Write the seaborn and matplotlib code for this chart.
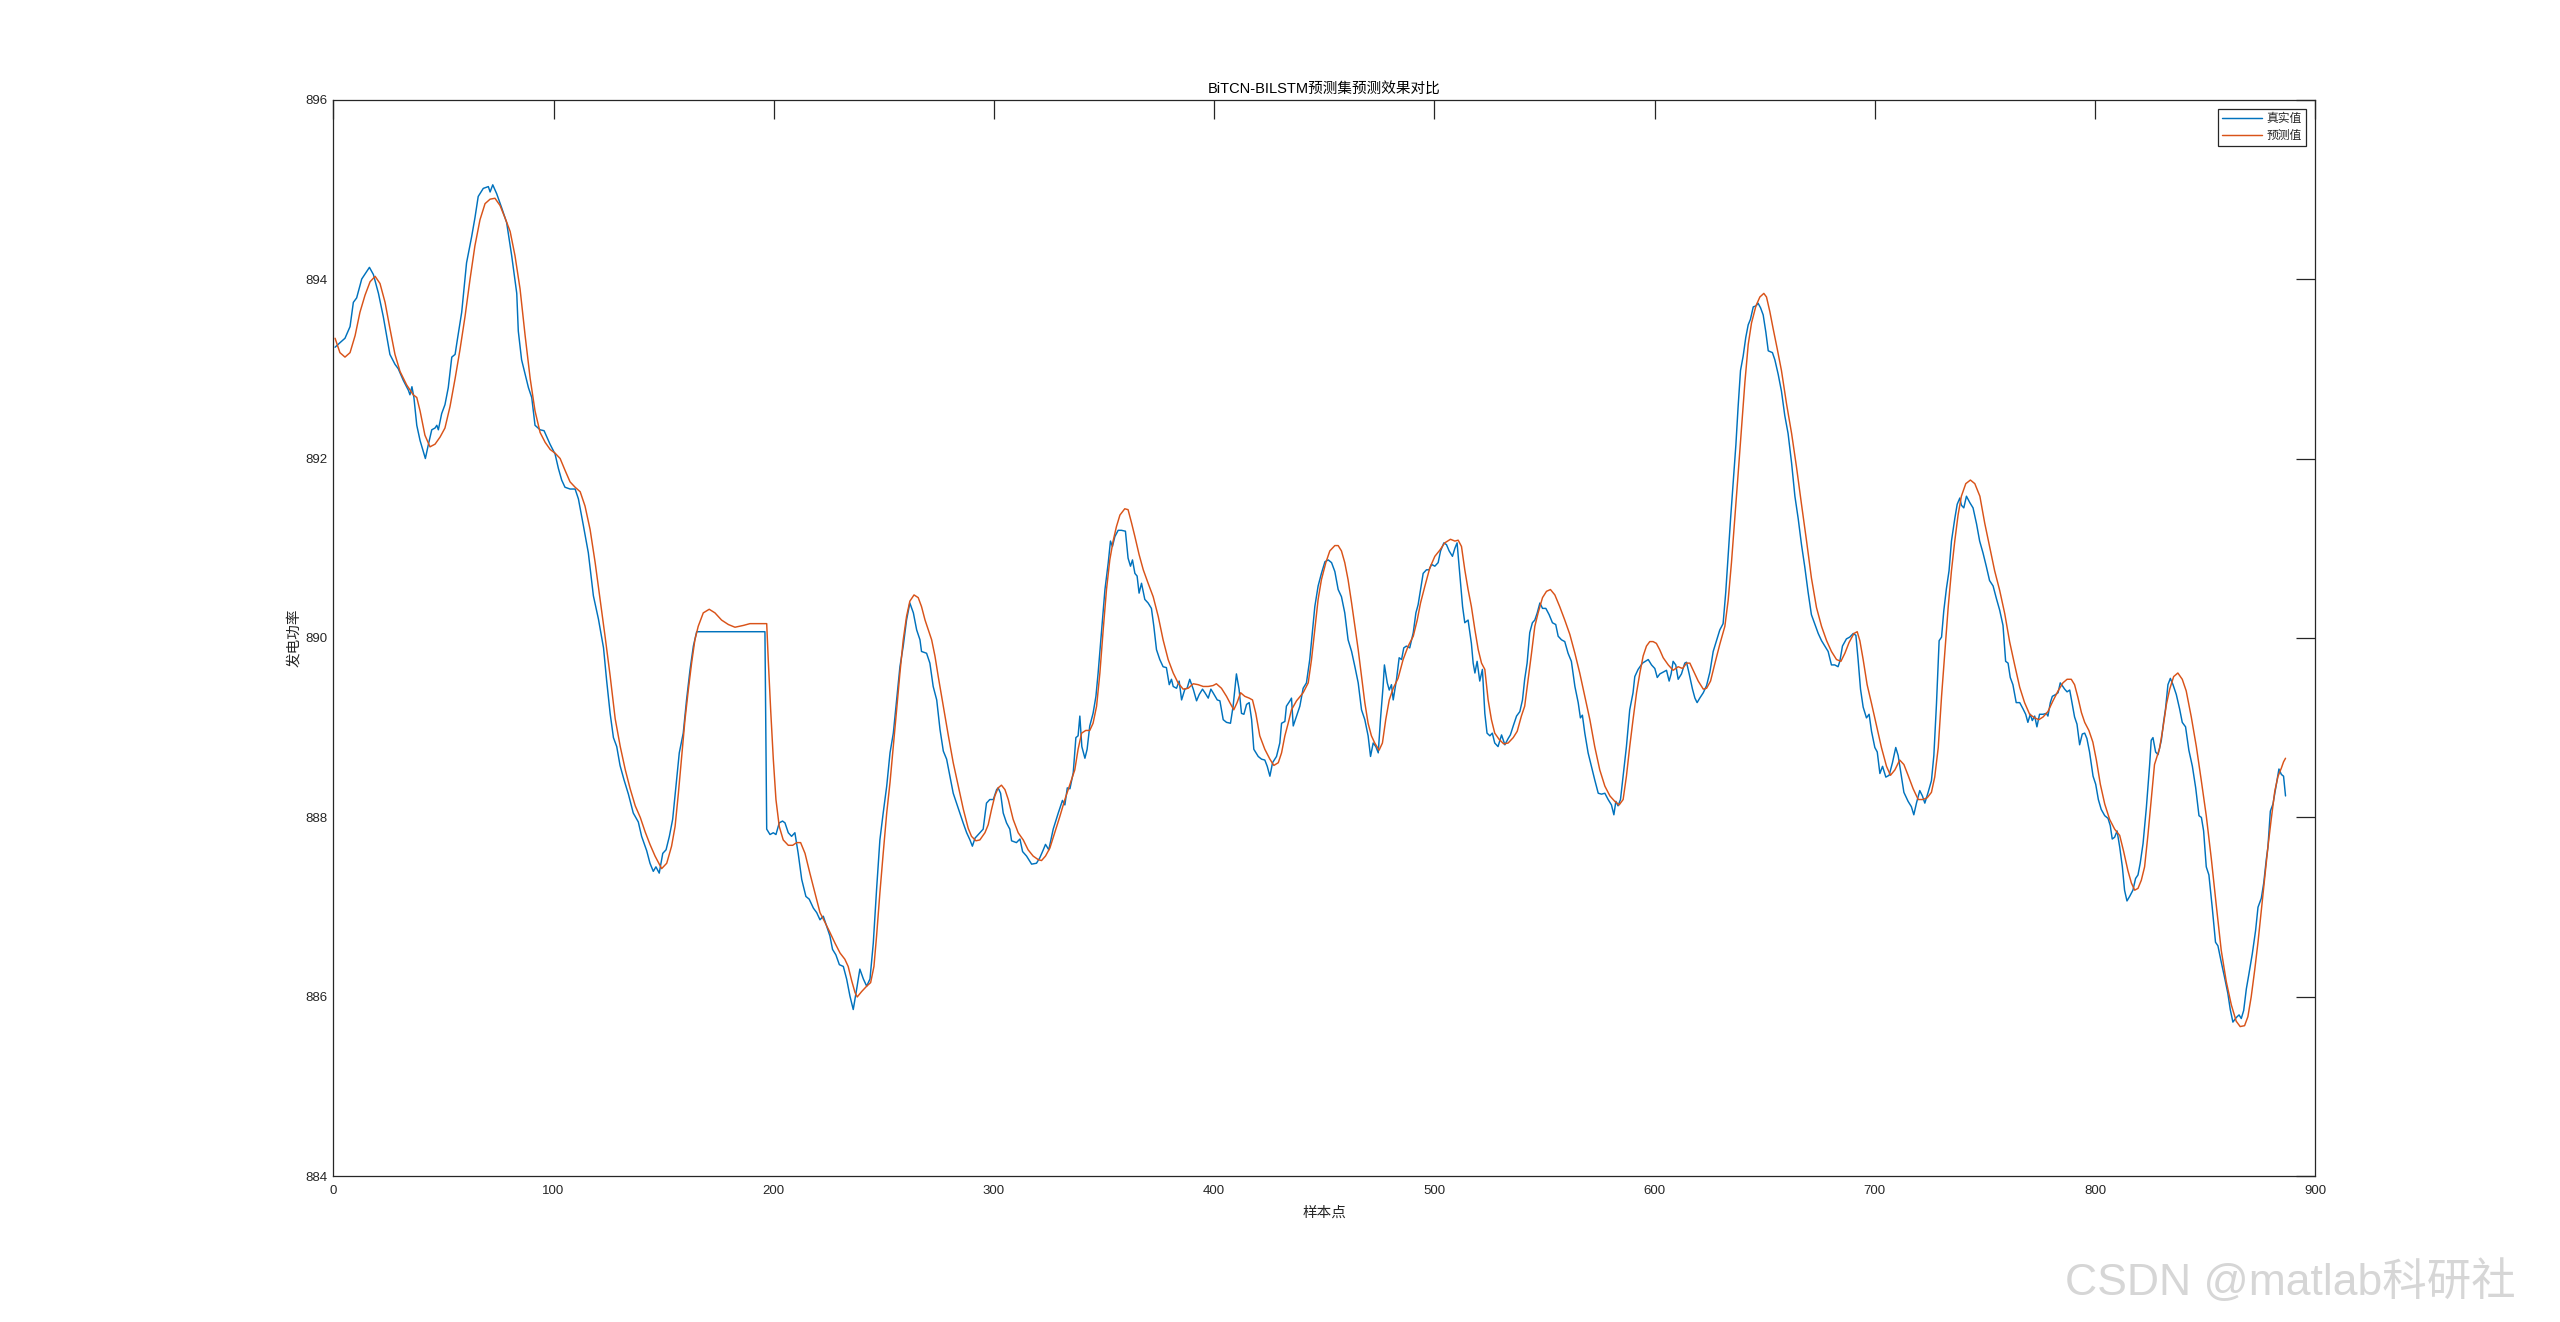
"""BiTCN-BILSTM test-set prediction vs. actual, MATLAB-style figure."""

import matplotlib
matplotlib.use("Agg")
import matplotlib.pyplot as plt
import seaborn as sns

# --- data (sample index, value) ---
true_x = [
    0.8, 3, 5.3, 7.6, 9.1, 10.6, 12.9, 16.4, 18.2, 20.5, 22.7, 24.2, 25.7, 28, 29.5, 31.8, 34.1, 34.8, 35.7, 36.6,
    37.9, 39.4, 41.8, 43.2, 44.7, 46.2, 47, 47.7, 49.2, 50.7, 52.2, 53.8, 55.3, 56.3, 58.3, 60.5, 62.8, 64.3, 65.8, 68.1,
    70.4, 71.2, 72.4, 74.2, 76.5, 78.7, 81, 83.3, 84, 85.5, 87, 88.6, 90.1, 91.6, 93.9, 95.7, 98.4, 100.7, 102.2, 103.7,
    105.2, 107.5, 109.8, 111.3, 113.5, 115.8, 118.1, 120.4, 122.7, 124.1, 125.7, 127.2, 128.7, 130.2, 132, 134, 136.2, 138.5, 140, 142.3,
    143.8, 145.3, 146.5, 148, 149.6, 151.1, 152.6, 154.1, 155.6, 157.1, 158.9, 160.4, 162, 163.5, 165, 196, 196.8, 198.3, 199.8, 201,
    202.5, 204, 205.1, 206.6, 208.1, 209.6, 211.1, 212.7, 214.6, 216.1, 218, 219.5, 221, 222.5, 224, 225.5, 226.7, 228.2, 229.8, 231.6,
    233.1, 234.6, 236.1, 237.6, 239.1, 240.7, 242.2, 243.7, 245.2, 246.7, 248.2, 249.7, 251.3, 252.8, 254.3, 255.8, 257.3, 258.8, 260.3, 261.8,
    263.4, 264.9, 266.4, 267.1, 269.4, 270.9, 272.4, 274, 275.5, 277, 278.5, 280, 281.5, 283, 284.5, 286, 287.6, 289.1, 290.2, 291.4,
    292.9, 295.1, 296.6, 298.1, 299.7, 301.2, 301.9, 303, 304.2, 305.7, 307.2, 308, 310.2, 311.8, 313, 314.8, 317.1, 319.3, 320.8, 322.4,
    323.4, 324.9, 326.9, 329.2, 331.1, 332.2, 333.3, 334.5, 336, 337.2, 338.2, 339, 339.9, 341.3, 342.3, 343.5, 345, 346.3, 347.3, 348.8,
    350.4, 351.9, 352.9, 353.8, 354.9, 356.4, 357.9, 359.7, 360.9, 362, 362.9, 364, 365, 365.9, 367, 368.5, 370, 371.5, 372.6, 373.8,
    375.3, 376.8, 378.3, 379.6, 380.6, 381.4, 382.9, 384.1, 385.2, 386.7, 387.7, 388.9, 390.5, 392, 393.2, 394.7, 395.8, 397.3, 398.5, 399.5,
    401.4, 402.6, 404.1, 405.6, 407.4, 408.6, 410.1, 411.3, 412.4, 413.5, 414.7, 415.9, 417, 418, 420, 421.5, 423, 424.1, 425.3, 426.5,
    428.3, 429.8, 430.6, 432.1, 432.8, 434.4, 435.1, 435.9, 437.4, 438.9, 440.4, 441.9, 443.4, 444.7, 445.7, 447.2, 448.7, 450.3, 451.8, 453.3,
    454.8, 456.3, 457.8, 459.3, 460.8, 462.4, 463.9, 465.4, 466.9, 468.4, 469.9, 471, 472.2, 473.4, 474.5, 475.5, 476.7, 477.3, 478.6, 479.5,
    480.5, 481.3, 482.8, 484, 485.1, 486.1, 487.3, 488.8, 490.4, 491.6, 492.6, 493.7, 494.9, 496.4, 497.6, 498.7, 500.2, 501.7, 502.8, 504.3,
    505.5, 506.7, 508.2, 509.3, 510.3, 511.5, 512.8, 513.8, 515.3, 516.8, 517.6, 518.4, 519.4, 520.6, 521.8, 522.9, 523.9, 525.2, 526.3, 527.4,
    528.9, 530.5, 532, 533.5, 534.5, 535.8, 537.3, 538.8, 540, 541, 542.1, 543.3, 544.5, 545.6, 546.7, 547.9, 549.1, 550.6, 552.1, 553.6,
    555.1, 556.2, 557.7, 559.2, 560.7, 562.2, 563.8, 565.3, 566.3, 567.2, 568.3, 569.8, 571.3, 572.8, 574.4, 575.9, 577.4, 578.9, 580.4, 581.5,
    582.4, 583.4, 584.5, 585.7, 587.2, 588.7, 590.2, 591, 592.5, 594.5, 597.1, 598.6, 600.1, 601.2, 602.4, 603.9, 605.4, 606.6, 607.5, 608.4,
    609.6, 610.7, 612.2, 613.7, 614.5, 615.7, 617.2, 618.3, 619.3, 620.5, 622.1, 623.6, 625.1, 626.6, 628.1, 629.6, 631.1, 632.3, 633.4, 634.5,
    635.7, 636.9, 637.9, 639, 640.2, 641.4, 642.5, 643.5, 644.8, 646, 647, 648.1, 649.3, 650.5, 651.6, 653.5, 654.6, 656.1, 657.6, 659.1,
    660.6, 662.2, 663.7, 665.2, 666.7, 668.2, 669.7, 671.2, 672.7, 674.3, 675.8, 677.3, 678.8, 680.3, 681.8, 683.3, 684.1, 685.3, 687.1, 688.6,
    690.2, 691.4, 692.4, 693.5, 694.7, 696.2, 697.4, 698.5, 700, 701.1, 702.3, 703.5, 705, 706.5, 708, 709.5, 710.6, 712.1, 713.2, 715.1,
    716.6, 717.7, 718.9, 720.4, 721.6, 722.7, 724.2, 725.7, 726.8, 728, 729.2, 730.3, 731.3, 732.5, 733.7, 734.8, 736.3, 737.4, 738.6, 739.3,
    740.4, 741.6, 743.1, 744.6, 746.2, 747.6, 749.1, 750.6, 752.1, 753.7, 755.2, 756.7, 758.2, 759.4, 760.5, 761.5, 762.7, 764.2, 765.8, 767.3,
    768.5, 769.5, 770.6, 771.5, 772.6, 773.6, 774.8, 776.4, 777.9, 778.6, 779.7, 780.6, 782.1, 783.2, 784.2, 785.1, 786.2, 787.3, 788.5, 789.7,
    790.7, 791.8, 793, 794.2, 795.3, 796.3, 797.5, 799.1, 800.3, 801.5, 802.8, 804.4, 805.9, 806.9, 807.8, 808.9, 810, 811.2, 812.4, 813.4,
    814.5, 815.7, 817.2, 818.4, 819.5, 820.5, 821.8, 823.3, 824.8, 825.5, 826.3, 827.5, 828.6, 830.1, 831.1, 832, 833.1, 834.2, 835.4, 836.9,
    838.4, 839.6, 841.1, 842.6, 844.2, 845.7, 847.2, 848.3, 849.3, 850.5, 851.7, 853.2, 854.7, 855.8, 857.3, 858.8, 860.3, 861.4, 862.6, 864.1,
    865.4, 866.4, 867.5, 868.7, 869.9, 871.4, 872.9, 874, 875.5, 876.6, 877.8, 878.5, 879.6, 880.8, 882.3, 883.5, 884.6, 885.6, 886.5,
]
true_y = [
    893.24, 893.29, 893.34, 893.47, 893.74, 893.79, 894.0, 894.13, 894.05, 893.84, 893.58, 893.37, 893.16, 893.05, 893.0, 892.87, 892.76, 892.71, 892.8, 892.68,
    892.37, 892.2, 892.0, 892.16, 892.32, 892.34, 892.37, 892.32, 892.5, 892.6, 892.79, 893.13, 893.16, 893.32, 893.63, 894.18, 894.47, 894.68, 894.92, 895.01,
    895.03, 894.97, 895.05, 894.95, 894.79, 894.63, 894.26, 893.84, 893.42, 893.1, 892.95, 892.79, 892.68, 892.37, 892.32, 892.31, 892.16, 892.05, 891.89, 891.76,
    891.68, 891.66, 891.66, 891.55, 891.26, 890.95, 890.47, 890.21, 889.89, 889.53, 889.16, 888.89, 888.79, 888.58, 888.42, 888.26, 888.05, 887.95, 887.79, 887.63,
    887.49, 887.4, 887.45, 887.38, 887.6, 887.64, 887.79, 887.98, 888.35, 888.72, 888.94, 889.31, 889.65, 889.91, 890.07, 890.07, 887.87, 887.81, 887.83, 887.81,
    887.94, 887.96, 887.94, 887.83, 887.79, 887.83, 887.6, 887.31, 887.12, 887.09, 886.99, 886.94, 886.86, 886.9, 886.79, 886.68, 886.53, 886.47, 886.36, 886.34,
    886.2, 886.01, 885.86, 886.08, 886.31, 886.2, 886.12, 886.2, 886.6, 887.2, 887.75, 888.05, 888.35, 888.72, 888.94, 889.31, 889.68, 889.91, 890.2, 890.39,
    890.28, 890.09, 889.98, 889.85, 889.83, 889.72, 889.46, 889.31, 888.98, 888.74, 888.65, 888.46, 888.27, 888.16, 888.05, 887.94, 887.83, 887.75, 887.68, 887.77,
    887.81, 887.87, 888.16, 888.2, 888.2, 888.31, 888.33, 888.27, 888.05, 887.94, 887.87, 887.74, 887.72, 887.76, 887.62, 887.57, 887.48, 887.49, 887.55, 887.64,
    887.7, 887.64, 887.87, 888.05, 888.19, 888.14, 888.33, 888.32, 888.5, 888.89, 888.91, 889.13, 888.79, 888.66, 888.76, 889.02, 889.16, 889.35, 889.61, 890.06,
    890.54, 890.84, 891.08, 891.02, 891.13, 891.2, 891.2, 891.19, 890.89, 890.8, 890.87, 890.72, 890.69, 890.5, 890.61, 890.43, 890.39, 890.33, 890.13, 889.87,
    889.76, 889.68, 889.67, 889.48, 889.54, 889.46, 889.44, 889.52, 889.31, 889.43, 889.44, 889.54, 889.43, 889.3, 889.37, 889.43, 889.39, 889.33, 889.43, 889.39,
    889.31, 889.3, 889.09, 889.06, 889.05, 889.24, 889.6, 889.43, 889.16, 889.15, 889.26, 889.28, 889.09, 888.76, 888.68, 888.65, 888.64, 888.57, 888.46, 888.61,
    888.68, 888.83, 889.05, 889.07, 889.24, 889.3, 889.33, 889.02, 889.13, 889.24, 889.44, 889.5, 889.76, 890.09, 890.35, 890.58, 890.72, 890.85, 890.87, 890.84,
    890.74, 890.54, 890.46, 890.28, 889.98, 889.85, 889.68, 889.5, 889.2, 889.09, 888.91, 888.68, 888.83, 888.79, 888.72, 889.09, 889.46, 889.7, 889.5, 889.42,
    889.48, 889.31, 889.54, 889.78, 889.76, 889.89, 889.91, 889.89, 890.06, 890.28, 890.37, 890.54, 890.72, 890.76, 890.76, 890.82, 890.8, 890.84, 890.97, 891.06,
    891.04, 890.97, 890.91, 891.0, 891.06, 890.72, 890.35, 890.17, 890.2, 889.94, 889.72, 889.61, 889.74, 889.52, 889.65, 889.16, 888.94, 888.91, 888.94, 888.83,
    888.79, 888.92, 888.81, 888.88, 888.92, 889.02, 889.13, 889.18, 889.31, 889.54, 889.72, 890.06, 890.17, 890.2, 890.28, 890.39, 890.33, 890.33, 890.26, 890.17,
    890.15, 890.02, 889.98, 889.96, 889.83, 889.74, 889.46, 889.28, 889.11, 889.14, 888.94, 888.72, 888.57, 888.42, 888.27, 888.26, 888.27, 888.2, 888.14, 888.03,
    888.18, 888.13, 888.2, 888.46, 888.79, 889.2, 889.39, 889.57, 889.65, 889.72, 889.76, 889.7, 889.66, 889.56, 889.6, 889.62, 889.64, 889.52, 889.6, 889.74,
    889.7, 889.54, 889.6, 889.72, 889.73, 889.6, 889.43, 889.33, 889.28, 889.33, 889.39, 889.47, 889.62, 889.85, 889.97, 890.09, 890.16, 890.51, 890.92, 891.33,
    891.74, 892.15, 892.57, 892.98, 893.14, 893.35, 893.49, 893.55, 893.69, 893.7, 893.73, 893.68, 893.6, 893.41, 893.2, 893.18, 893.1, 892.94, 892.75, 892.48,
    892.28, 891.95, 891.58, 891.33, 891.04, 890.79, 890.51, 890.26, 890.16, 890.05, 889.97, 889.91, 889.85, 889.7, 889.7, 889.68, 889.74, 889.91, 889.99, 890.01,
    890.05, 890.03, 889.76, 889.43, 889.23, 889.11, 889.15, 888.96, 888.78, 888.73, 888.49, 888.57, 888.45, 888.47, 888.61, 888.78, 888.69, 888.45, 888.28, 888.18,
    888.12, 888.03, 888.16, 888.3, 888.24, 888.16, 888.28, 888.41, 888.69, 889.27, 889.97, 890.01, 890.3, 890.55, 890.75, 891.08, 891.33, 891.49, 891.56, 891.48,
    891.45, 891.58, 891.51, 891.45, 891.27, 891.08, 890.95, 890.8, 890.64, 890.58, 890.44, 890.31, 890.14, 889.74, 889.72, 889.56, 889.48, 889.28, 889.28, 889.21,
    889.15, 889.06, 889.15, 889.08, 889.13, 889.01, 889.15, 889.15, 889.16, 889.13, 889.28, 889.35, 889.37, 889.39, 889.5, 889.47, 889.43, 889.4, 889.42, 889.26,
    889.12, 889.04, 888.81, 888.93, 888.94, 888.88, 888.73, 888.46, 888.37, 888.2, 888.09, 888.02, 887.99, 887.91, 887.76, 887.78, 887.85, 887.67, 887.45, 887.19,
    887.07, 887.12, 887.19, 887.32, 887.36, 887.49, 887.71, 888.11, 888.59, 888.86, 888.89, 888.73, 888.7, 888.86, 889.06, 889.21, 889.48, 889.55, 889.48, 889.37,
    889.21, 889.06, 889.01, 888.75, 888.57, 888.33, 888.02, 888.0, 887.85, 887.45, 887.36, 887.0, 886.61, 886.57, 886.39, 886.22, 886.04, 885.86, 885.72, 885.77,
    885.8, 885.76, 885.85, 886.09, 886.26, 886.48, 886.74, 887.0, 887.1, 887.27, 887.54, 887.67, 888.07, 888.15, 888.37, 888.54, 888.48, 888.46, 888.24,
]

pred_x = [
    0.8, 3, 5.3, 7.6, 9.9, 12.1, 14.4, 16.7, 19, 21.2, 23.5, 25.7, 28, 30.3, 33.3, 36.3, 37.9, 39.4, 41.6, 43.9,
    46.2, 48.5, 50.7, 53, 55.3, 57.5, 59.8, 62.1, 64.3, 66.6, 68.9, 71.2, 73.4, 75.7, 78, 80.3, 82.5, 84.8, 87.1, 89.4,
    91.6, 93.9, 96.2, 98.5, 100.7, 103, 105.2, 107.5, 109.8, 112.1, 114.3, 116.6, 118.9, 121.2, 123.5, 125.7, 128, 130.3, 132.6, 134.8,
    137.1, 139.4, 141.6, 143.8, 146.1, 149.1, 151.4, 153.6, 155.2, 156.7, 158.2, 159.7, 161.2, 162.7, 164.2, 165.7, 168, 170.7, 173.3, 176.3,
    179.4, 182.4, 186.2, 189.2, 196.8, 197.5, 198.6, 199.8, 201, 202.5, 204.3, 206.6, 208.6, 210.4, 212.2, 214.2, 216.4, 218.7, 221, 223.3,
    225.5, 227.8, 230.1, 232.3, 233.8, 235.4, 236.9, 237.9, 239.9, 242.2, 244, 245.5, 246.7, 248.2, 249.7, 251.3, 252.8, 254.3, 255.8, 257.3,
    258.8, 260.3, 261.8, 263.7, 265.6, 267.1, 268.7, 270.2, 271.7, 273.2, 274.7, 277, 279.3, 281.5, 283.8, 286.1, 288.3, 289.8, 291.8, 293.6,
    295.9, 297.4, 298.9, 300.4, 301.9, 303.4, 305, 306.5, 308.7, 311, 313.3, 315.5, 317.8, 320.1, 321.6, 323.4, 325.4, 327.6, 329.9, 332.2,
    334.5, 336.7, 338.2, 339.8, 341.7, 343.5, 345, 346.6, 348.1, 349.6, 351.1, 352.6, 354.1, 355.6, 357.2, 359.4, 360.9, 362.5, 364, 365.9,
    367.8, 370, 372.3, 374.6, 376.8, 379.1, 381.4, 383.6, 385.9, 388.2, 390.5, 392.7, 395, 397.3, 399.5, 401, 403.3, 405.6, 407.1, 408.9,
    410.4, 412, 413.9, 415.9, 417.4, 418.9, 420.7, 423, 425.3, 427.1, 429.1, 430.6, 432.1, 433.6, 435.1, 437.4, 440.4, 442.7, 444.2, 445.7,
    447.2, 448.7, 450.7, 452.5, 454.8, 456.3, 457.8, 459.3, 460.8, 462.4, 463.9, 465.4, 466.9, 468.4, 469.9, 471.4, 472.9, 474.9, 476.4, 477.9,
    479.5, 481.3, 483.5, 485.8, 488.1, 490.4, 492.2, 493.7, 495.7, 497.9, 500.2, 502.5, 504.7, 507.3, 509.3, 510.8, 512.3, 513.8, 515.3, 516.8,
    518.4, 519.9, 521.4, 522.9, 524.4, 525.9, 527.4, 529.4, 531.5, 533.5, 535.8, 537.6, 539.5, 541, 542.6, 544.1, 545.6, 547.1, 549.1, 550.9,
    552.7, 554.7, 556.9, 559.2, 561.5, 563.8, 566, 568.3, 570.6, 572.8, 575.1, 577.4, 579.7, 581.9, 583.9, 585.7, 587.2, 588.7, 590.2, 591.8,
    593.3, 594.8, 596.3, 597.8, 599.3, 600.8, 602.3, 603.9, 606.2, 608.4, 610.7, 612.7, 614.5, 616, 617.5, 619.8, 622.1, 623.6, 625.4, 627.4,
    629.6, 631.9, 633.4, 634.9, 636.4, 637.9, 639.5, 641, 642.5, 644, 646, 647.8, 649.6, 650.8, 652.3, 653.8, 655.7, 657.6, 659.9, 662.2,
    664.4, 666.7, 669, 671.2, 673.5, 675.8, 678.1, 680.3, 682.6, 684.6, 686.4, 688.3, 690.5, 692, 693.2, 694.7, 696.5, 698.5, 700.8, 703,
    705.3, 707.1, 709.1, 711.3, 713.2, 715.1, 717.4, 719.7, 721.9, 723.8, 725.7, 727.2, 728.8, 730.3, 731.8, 733.3, 734.8, 736.3, 737.8, 739.3,
    741.3, 743.4, 745.4, 747.7, 749.9, 752.1, 754.4, 756.7, 759, 761.2, 763.5, 765.8, 768, 770.3, 772.6, 774.5, 776.4, 778.6, 780.9, 783.2,
    785.4, 787.3, 789.2, 790.7, 792.2, 793.8, 795.3, 797.2, 799, 800.6, 802.4, 804.4, 806.6, 808.9, 811.2, 813, 814.9, 816.5, 818, 819.5,
    821, 822.5, 824, 825.5, 827, 829.3, 830.8, 832.4, 833.9, 835.7, 837.6, 839.6, 841.4, 843.7, 846, 848.2, 850.5, 852.8, 855.1, 857.3,
    859.6, 861.9, 864.1, 865.9, 867.9, 869.4, 870.9, 872.5, 874, 875.5, 877, 878.5, 880, 881.6, 883.1, 884.6, 885.6, 886.5,
]
pred_y = [
    893.34, 893.18, 893.13, 893.18, 893.37, 893.63, 893.82, 893.97, 894.03, 893.95, 893.74, 893.45, 893.16, 892.97, 892.82, 892.71, 892.68, 892.53, 892.26, 892.13,
    892.16, 892.24, 892.34, 892.58, 892.89, 893.21, 893.58, 894.0, 894.37, 894.66, 894.84, 894.89, 894.9, 894.82, 894.68, 894.53, 894.26, 893.89, 893.37, 892.89,
    892.53, 892.29, 892.18, 892.1, 892.06, 892.0, 891.87, 891.74, 891.68, 891.63, 891.47, 891.21, 890.84, 890.42, 890.0, 889.58, 889.1, 888.79, 888.53, 888.32,
    888.13, 888.0, 887.84, 887.7, 887.57, 887.43, 887.49, 887.68, 887.9, 888.27, 888.68, 889.09, 889.42, 889.72, 889.98, 890.13, 890.28, 890.32, 890.28, 890.2,
    890.15, 890.12, 890.14, 890.16, 890.16, 889.76, 889.2, 888.65, 888.2, 887.9, 887.75, 887.69, 887.69, 887.72, 887.72, 887.6, 887.38, 887.16, 886.94, 886.83,
    886.72, 886.6, 886.49, 886.42, 886.34, 886.18, 886.05, 886.0, 886.06, 886.12, 886.16, 886.34, 886.68, 887.16, 887.6, 888.05, 888.39, 888.79, 889.2, 889.61,
    889.98, 890.24, 890.41, 890.48, 890.45, 890.35, 890.2, 890.09, 889.98, 889.8, 889.57, 889.24, 888.91, 888.61, 888.35, 888.09, 887.88, 887.79, 887.74, 887.75,
    887.83, 887.92, 888.09, 888.24, 888.33, 888.36, 888.31, 888.2, 887.98, 887.83, 887.75, 887.64, 887.57, 887.53, 887.52, 887.57, 887.66, 887.83, 888.01, 888.2,
    888.37, 888.53, 888.76, 888.94, 888.97, 888.97, 889.05, 889.24, 889.61, 890.09, 890.54, 890.87, 891.08, 891.24, 891.37, 891.44, 891.43, 891.28, 891.13, 890.93,
    890.76, 890.61, 890.46, 890.24, 889.98, 889.76, 889.61, 889.5, 889.43, 889.44, 889.49, 889.48, 889.46, 889.46, 889.47, 889.49, 889.44, 889.35, 889.28, 889.2,
    889.28, 889.39, 889.35, 889.33, 889.31, 889.16, 888.91, 888.76, 888.65, 888.58, 888.61, 888.72, 888.91, 889.05, 889.2, 889.3, 889.39, 889.5, 889.76, 890.09,
    890.43, 890.65, 890.84, 890.97, 891.03, 891.03, 890.97, 890.84, 890.65, 890.39, 890.13, 889.87, 889.57, 889.28, 889.05, 888.91, 888.83, 888.75, 888.83, 889.09,
    889.31, 889.44, 889.55, 889.76, 889.91, 890.02, 890.2, 890.39, 890.58, 890.78, 890.91, 890.98, 891.06, 891.1, 891.08, 891.09, 891.02, 890.76, 890.54, 890.35,
    890.09, 889.87, 889.72, 889.65, 889.31, 889.09, 888.94, 888.87, 888.82, 888.83, 888.89, 888.96, 889.13, 889.24, 889.54, 889.83, 890.13, 890.28, 890.45, 890.52,
    890.54, 890.48, 890.35, 890.2, 890.04, 889.83, 889.61, 889.35, 889.09, 888.79, 888.53, 888.35, 888.24, 888.18, 888.14, 888.2, 888.46, 888.79, 889.09, 889.39,
    889.61, 889.8, 889.91, 889.96, 889.96, 889.94, 889.87, 889.78, 889.7, 889.64, 889.68, 889.66, 889.72, 889.72, 889.64, 889.52, 889.43, 889.44, 889.52, 889.72,
    889.93, 890.13, 890.42, 890.84, 891.33, 891.82, 892.36, 892.85, 893.27, 893.51, 893.7, 893.8, 893.84, 893.8, 893.64, 893.45, 893.22, 892.98, 892.61, 892.28,
    891.91, 891.49, 891.08, 890.67, 890.34, 890.13, 889.97, 889.85, 889.76, 889.74, 889.83, 889.95, 890.05, 890.07, 889.97, 889.76, 889.48, 889.27, 889.02, 888.78,
    888.57, 888.47, 888.53, 888.64, 888.59, 888.47, 888.32, 888.2, 888.2, 888.22, 888.28, 888.45, 888.78, 889.35, 889.85, 890.34, 890.75, 891.08, 891.37, 891.58,
    891.72, 891.76, 891.72, 891.58, 891.28, 891.02, 890.75, 890.53, 890.27, 889.96, 889.7, 889.45, 889.28, 889.15, 889.11, 889.09, 889.12, 889.18, 889.3, 889.41,
    889.5, 889.54, 889.54, 889.48, 889.34, 889.17, 889.06, 888.97, 888.84, 888.64, 888.37, 888.15, 887.98, 887.87, 887.8, 887.62, 887.41, 887.27, 887.19, 887.21,
    887.3, 887.45, 887.8, 888.2, 888.59, 888.77, 888.99, 889.26, 889.43, 889.57, 889.61, 889.54, 889.41, 889.12, 888.79, 888.42, 888.02, 887.54, 887.01, 886.52,
    886.17, 885.91, 885.73, 885.67, 885.68, 885.78, 886.0, 886.3, 886.61, 886.96, 887.32, 887.67, 887.98, 888.29, 888.46, 888.55, 888.62, 888.66,
]

x_ticks = [0, 100, 200, 300, 400, 500, 600, 700, 800, 900]
y_ticks = [884, 886, 888, 890, 892, 894, 896]

title_text = "BiTCN-BILSTM预测集预测效果对比"
x_label = "样本点"
y_label = "发电功率"
series_names = ["真实值", "预测值"]
watermark = "CSDN @matlab科研社"

BLUE = "#0072BD"
ORANGE = "#D95319"
DARK = "#262626"


def main() -> None:
    sns.set_theme(style="white")
    plt.rcParams["font.family"] = ["Liberation Sans", "Noto Sans CJK SC"]
    plt.rcParams["axes.unicode_minus"] = False

    fig = plt.figure(figsize=(25.6, 13.22), dpi=100)
    fig.patch.set_facecolor("white")
    ax = fig.add_axes([0.1302, 0.1101, 0.7742, 0.8146])

    sns.lineplot(x=true_x, y=true_y, ax=ax, color=BLUE, linewidth=1.05,
                 sort=False, estimator=None, label=series_names[0])
    sns.lineplot(x=pred_x, y=pred_y, ax=ax, color=ORANGE, linewidth=1.05,
                 sort=False, estimator=None, label=series_names[1])

    ax.set_xlim(0, 900)
    ax.set_ylim(884, 896)
    ax.set_xticks(x_ticks)
    ax.set_yticks(y_ticks)
    ax.set_xticklabels([str(t) for t in x_ticks])
    ax.set_yticklabels([str(t) for t in y_ticks])

    for side in ["left", "right", "top", "bottom"]:
        ax.spines[side].set_visible(True)
        ax.spines[side].set_color(DARK)
        ax.spines[side].set_linewidth(0.9)
    ax.tick_params(axis="both", which="major", direction="in", length=13.5,
                   width=0.9, color=DARK, labelcolor=DARK, labelsize=9.5,
                   top=True, right=True)
    ax.tick_params(axis="x", pad=6.5)
    ax.tick_params(axis="y", pad=4.5)
    ax.grid(False)

    ax.set_title(title_text, fontsize=10.5, color="black", pad=5)
    ax.set_xlabel(x_label, fontsize=10.5, color=DARK, labelpad=6)
    ax.set_ylabel(y_label, fontsize=10.5, color=DARK, labelpad=3)

    leg = ax.legend(loc="upper right", fontsize=8.5, frameon=True, fancybox=False,
                    edgecolor=DARK, framealpha=1, borderaxespad=0.8,
                    handlelength=3.4, handletextpad=0.35, borderpad=0.35,
                    labelspacing=0.4)
    leg.get_frame().set_linewidth(0.9)

    fig.text(0.8066, 0.0204, watermark, fontsize=32, color="#d6d6d6",
             ha="left", va="baseline")

    fig.savefig("out.png", dpi=100, facecolor="white")
    plt.close(fig)


if __name__ == "__main__":
    main()
